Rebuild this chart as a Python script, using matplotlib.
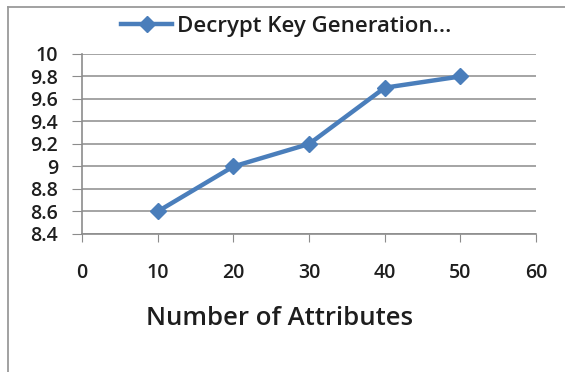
import matplotlib.pyplot as plt
from matplotlib.lines import Line2D

# atributos x tempo de geracao da chave de decifragem
atributos = [10, 20, 30, 40, 50]
tempo = [8.6, 9.0, 9.2, 9.7, 9.8]
yticks = [8.4, 8.6, 8.8, 9, 9.2, 9.4, 9.6, 9.8, 10]
ylabels = ['8.4', '8.6', '8.8', '9', '9.2', '9.4', '9.6', '9.8', '10']
xticks = [0, 10, 20, 30, 40, 50, 60]

plt.rcParams['font.family'] = ['Open Sans', 'DejaVu Sans']
plt.rcParams['font.weight'] = 'semibold'

fig = plt.figure(figsize=(5.65, 3.72), dpi=100)
ax = fig.add_axes([0.145, 0.371, 0.804, 0.484])

# moldura: so a borda de cima e a da esquerda aparecem bem
fig.add_artist(Line2D([0.014, 0.014], [0.0, 0.981], transform=fig.transFigure,
                      color='#9a9a9a', linewidth=1.3))
fig.add_artist(Line2D([0.014, 1.0], [0.981, 0.981], transform=fig.transFigure,
                      color='#9a9a9a', linewidth=1.3))

ax.plot(atributos, tempo, color='#4a7ebb', linewidth=3.2, marker='D',
        markersize=8.5, label='Decrypt Key Generation...')

ax.set_xlim(0, 60)
ax.set_ylim(8.4, 10)
ax.set_yticks(yticks)
ax.set_yticklabels(ylabels)
ax.set_xticks(xticks)

ax.yaxis.grid(True, color='#8c8c8c', linewidth=1.1)
ax.set_axisbelow(True)
for s in ['top', 'right']:
    ax.spines[s].set_visible(False)
for s in ['left', 'bottom']:
    ax.spines[s].set_color('#8c8c8c')
    ax.spines[s].set_linewidth(1.2)

ax.tick_params(axis='y', length=7, color='#8c8c8c', labelsize=14, pad=10, labelcolor='#1e1e1e')
ax.tick_params(axis='x', length=6, color='#8c8c8c', labelsize=14, pad=15, labelcolor='#1e1e1e')

ax.set_xlabel('Number of Attributes', fontsize=18.5, fontweight='semibold', color='#1e1e1e')
ax.xaxis.set_label_coords(0.434, -0.40)

ax.legend(loc='lower center', bbox_to_anchor=(0.45, 1.01), frameon=False,
          fontsize=16, handlelength=2.3, handletextpad=0.2, borderaxespad=0.3,
          labelcolor='#1e1e1e')

fig.savefig('out.png', dpi=100)
